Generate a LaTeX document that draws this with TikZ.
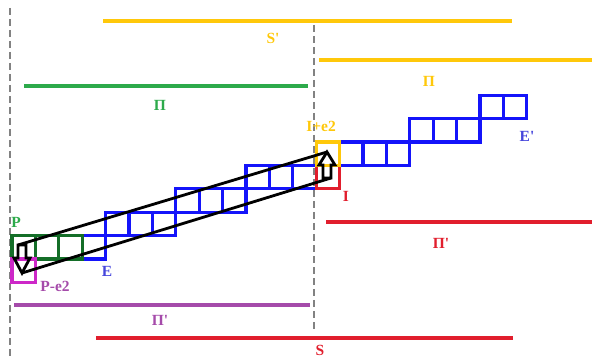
\documentclass[tikz,border=0pt]{standalone}
\usepackage{fontspec}
\setmainfont{Liberation Serif}
\definecolor{cblue}{RGB}{20,20,250}
\definecolor{cgreen}{RGB}{20,110,40}
\definecolor{lgreen}{RGB}{45,170,75}
\definecolor{cmag}{RGB}{205,40,200}
\definecolor{cred}{RGB}{225,30,45}
\definecolor{cyel}{RGB}{255,200,10}
\definecolor{cpur}{RGB}{165,75,170}
\definecolor{cgray}{RGB}{130,130,130}
\definecolor{lblue}{RGB}{70,70,220}
\newcommand{\apo}{\textquotesingle}
\begin{document}
\begin{tikzpicture}[x=1pt,y=-1pt,
  sq/.style={draw=#1,line width=3.2pt},
  hline/.style={draw=#1,line width=3.2pt},
  guide/.style={draw=cgray,line width=2.8pt,dash pattern=on 7pt off 4pt},
  lbl/.style={text=#1,font=\fontsize{15.5}{15.5}\selectfont\bfseries,inner sep=0pt},
  blk/.style={draw=black,line width=2.8pt,line join=miter}]
\useasboundingbox (0,0) rectangle (592,358);
\def\s{23.4}
% guides
\draw[guide] (10,8) -- (10,358);
\draw[guide] (314,25) -- (314,332);
% horizontal lines
\draw[hline=cyel] (103,21) -- (512,21);
\draw[hline=cyel] (319,60) -- (592,60);
\draw[hline=lgreen] (24,86) -- (308,86);
\draw[hline=cred] (326,222) -- (592,222);
\draw[hline=cpur] (14,305) -- (310,305);
\draw[hline=cred] (96,338) -- (513,338);
% squares
\foreach \c/\r in {3/0,4/1,5/1,6/1,7/2,8/2,9/2,10/3,11/3,12/3,14/4,15/4,16/4,17/5,18/5,19/5,20/6,21/6}
  \draw[sq=cblue] (12+\s*\c,259-\s*\r) rectangle ++(\s,-\s);
\foreach \c/\r in {0/0,1/0,2/0}
  \draw[sq=cgreen] (12+\s*\c,259-\s*\r) rectangle ++(\s,-\s);
\draw[sq=cmag] (12,259+\s) rectangle ++(\s,-\s);
\draw[sq=cred] (12+\s*13,259-\s*3) rectangle ++(\s,-\s);
\draw[sq=cyel] (12+\s*13,259-\s*4) rectangle ++(\s,-\s);
% black swap arrows
\coordinate (la) at (18,245);
\coordinate (lt) at (22,273);
\coordinate (rt) at (327,152);
\coordinate (rb) at (331,178);
\draw[blk] (18,245) -- (18,258) -- (14,258) -- (lt) -- (30,258) -- (26,258) -- (26,245) -- cycle;
\draw[blk] (323,178) -- (323,165) -- (319,165) -- (rt) -- (335,165) -- (331,165) -- (rb) -- cycle;
\draw[blk] (la) -- (rt);
\draw[blk] (lt) -- (rb);
% labels
\node[lbl=lgreen] (P) at (16,222) {P};
\node[lbl=cpur] (Pe) at (55,286) {P-e2};
\node[lbl=lblue] (E) at (107,271) {E};
\node[lbl=cyel] (Ie) at (321,126) {I+e2};
\node[lbl=cred] (I) at (346,196) {I};
\node[lbl=lblue] (Ep) at (527,136) {E\apo};
\node[lbl=cyel] (Sp) at (273,38) {S\apo};
\node[lbl=cyel] (Piy) at (429,81) {Π};
\node[lbl=lgreen] (Pig) at (160,105) {Π};
\node[lbl=cred] (Pir) at (441,243) {Π\apo};
\node[lbl=cpur] (Pip) at (160,320) {Π\apo};
\node[lbl=cred] (S) at (320,350) {S};
\end{tikzpicture}
\end{document}
